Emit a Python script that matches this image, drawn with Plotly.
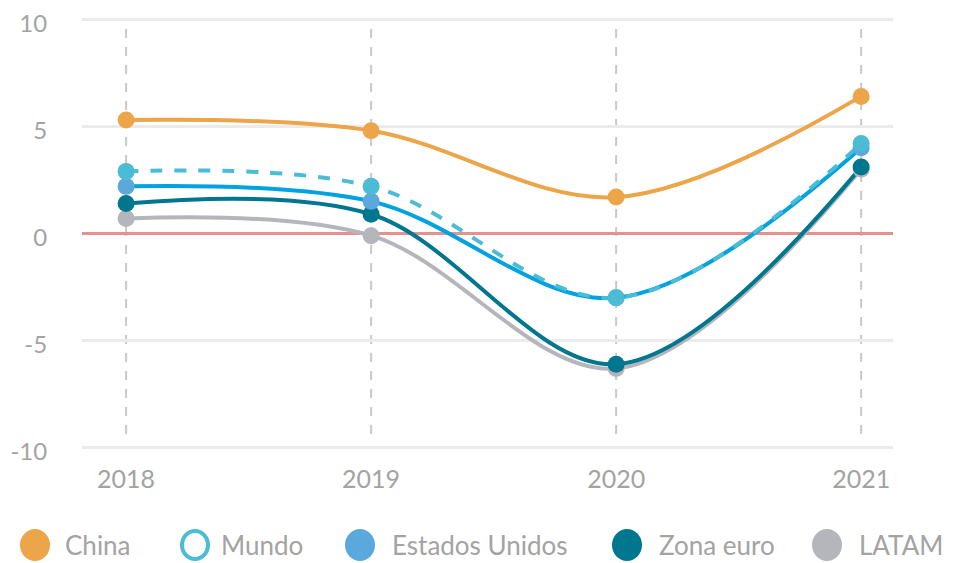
import plotly.graph_objects as go

years = [2018, 2019, 2020, 2021]
year_labels = ["2018", "2019", "2020", "2021"]
china = [5.3, 4.8, 1.7, 6.4]
mundo = [2.9, 2.2, -3.0, 4.2]
eeuu = [2.2, 1.5, -3.0, 4.0]
zona_euro = [1.4, 0.9, -6.1, 3.1]
latam = [0.7, -0.1, -6.3, 3.0]
y_ticks = [-10, -5, 0, 5, 10]
y_tick_labels = ["-10", "-5", "0", "5", "10"]

series_names = ["China", "Mundo", "Estados Unidos", "Zona euro", "LATAM"]

C_CHINA = "#EDA54A"
C_MUNDO = "#4BBCD5"
C_EEUU_LINE = "#00A3E0"
C_EEUU_MK = "#5BA8DC"
C_ZONA = "#00778F"
C_LATAM = "#B4B6BC"
FONT = "Lato"
TXT = "#A3A3A3"

# page body adds an 8px offset; figure sized to fit the window
OFF = 8
W, H = 954 - OFF, 563 - OFF
L, R, T, B = 82 - OFF, 61, 15 - OFF, 119 - OFF
YR = [-10.2, 10.2]
XR = [2017.82, 2021.13]

fig = go.Figure()

line_specs = [
    (latam, C_LATAM, "solid"),
    (zona_euro, C_ZONA, "solid"),
    (eeuu, C_EEUU_LINE, "solid"),
    (mundo, C_MUNDO, "dash"),
    (china, C_CHINA, "solid"),
]
for vals, col, dash in line_specs:
    fig.add_trace(go.Scatter(
        x=years, y=vals, mode="lines",
        line=dict(color=col, width=4, shape="spline", smoothing=1.0, dash=dash),
        showlegend=False, hoverinfo="skip"))

marker_specs = [
    (latam, C_LATAM, "LATAM"),
    (zona_euro, C_ZONA, "Zona euro"),
    (eeuu, C_EEUU_MK, "Estados Unidos"),
    (mundo, C_MUNDO, "Mundo"),
    (china, C_CHINA, "China"),
]
for vals, col, name in marker_specs:
    fig.add_trace(go.Scatter(
        x=years, y=vals, mode="markers", name=name,
        marker=dict(color=col, size=17),
        showlegend=False))

# vertical dashed guides at each year
for yr in years:
    fig.add_shape(type="line", xref="x", yref="y", x0=yr, x1=yr, y0=9.55, y1=-9.45,
                  line=dict(color="#C9C9C9", width=2, dash="dash"), layer="below")

# custom legend (screen pixels -> paper)
plot_w = W - L - R
plot_h = H - T - B
def px_x(px):
    return (px - OFF - L) / plot_w
def px_y(py):
    return (H - B - (py - OFF)) / plot_h

legend_items = [
    ("China", C_CHINA, 35, 63, True),
    ("Mundo", C_MUNDO, 195, 219, False),
    ("Estados Unidos", C_EEUU_MK, 360, 390, True),
    ("Zona euro", C_ZONA, 627, 657, True),
    ("LATAM", C_LATAM, 827, 857, True),
]
cy = 545
r = 15
for name, col, cx, tx, filled in legend_items:
    if filled:
        fig.add_shape(type="circle", xref="paper", yref="paper",
                      x0=px_x(cx - r), x1=px_x(cx + r), y0=px_y(cy + r + 1), y1=px_y(cy - r - 1),
                      fillcolor=col, line=dict(width=0))
    else:
        fig.add_shape(type="circle", xref="paper", yref="paper",
                      x0=px_x(cx - r + 2), x1=px_x(cx + r - 2), y0=px_y(cy + r - 1), y1=px_y(cy - r + 1),
                      fillcolor="white", line=dict(color=col, width=4))
    fig.add_annotation(x=px_x(tx), y=px_y(cy), xref="paper", yref="paper",
                       text=name, showarrow=False, xanchor="left", yanchor="middle",
                       font=dict(family=FONT, size=26, color=TXT))

fig.update_layout(
    width=W, height=H,
    margin=dict(l=L, r=R, t=T, b=B, pad=0),
    plot_bgcolor="white", paper_bgcolor="white",
    showlegend=False,
    xaxis=dict(range=XR, tickmode="array", tickvals=years, ticktext=year_labels,
               showgrid=False, zeroline=False, showline=False, automargin=False,
               ticklabeloverflow="allow",
               tickfont=dict(family=FONT, size=25, color=TXT),
               ticks="outside", ticklen=5, tickcolor="rgba(0,0,0,0)"),
    yaxis=dict(range=YR, tickmode="array", tickvals=y_ticks, ticktext=y_tick_labels,
               showgrid=True, gridcolor="#EBEBEB", gridwidth=3, automargin=False,
               ticklabeloverflow="allow", ticklabelshift=4,
               zeroline=True, zerolinecolor="#E8908F", zerolinewidth=3,
               showline=False,
               tickfont=dict(family=FONT, size=24, color=TXT),
               ticks="outside", ticklen=29, tickcolor="rgba(0,0,0,0)"),
    hovermode="closest",
)

fig.write_html("out.html")
